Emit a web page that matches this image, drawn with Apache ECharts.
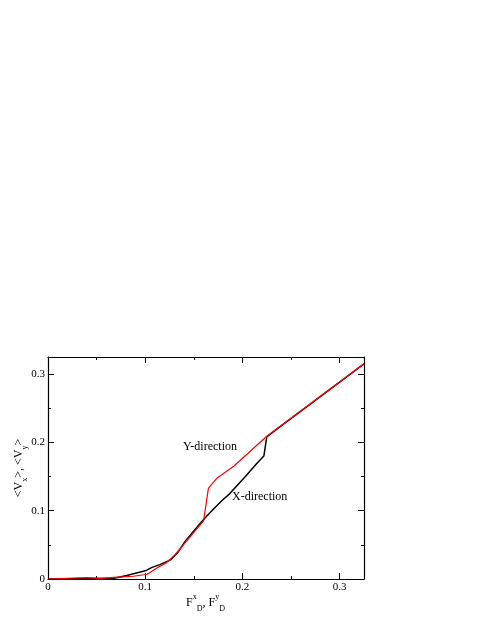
<!DOCTYPE html>
<html>
<head>
<meta charset="utf-8">
<script src="https://cdn.jsdelivr.net/npm/echarts@6/dist/echarts.min.js"></script>
<style>
  html, body { margin: 0; padding: 0; background: #fff; }
  #chart { width: 485px; height: 627px; }
</style>
</head>
<body>
<div id="chart"></div>
<script>
// X-direction (black) : driving force vs mean velocity
const xDirF = [0, 0.068, 0.081, 0.100, 0.107, 0.115, 0.126, 0.133, 0.141, 0.151, 0.160, 0.170, 0.179, 0.187, 0.194, 0.203, 0.214, 0.222, 0.225, 0.235, 0.325];
const xDirV = [0, 0.001, 0.005, 0.012, 0.017, 0.021, 0.028, 0.038, 0.055, 0.072, 0.087, 0.102, 0.115, 0.125, 0.136, 0.150, 0.168, 0.180, 0.208, 0.219, 0.315];

// Y-direction (red)
const yDirF = [0, 0.040, 0.054, 0.068, 0.088, 0.102, 0.112, 0.122, 0.131, 0.141, 0.151, 0.160, 0.165, 0.174, 0.191, 0.225, 0.325];
const yDirV = [0, 0.002, 0.001, 0.0025, 0.004, 0.007, 0.016, 0.024, 0.036, 0.053, 0.070, 0.085, 0.133, 0.148, 0.165, 0.209, 0.315];

const axisMax = 0.325;
const tickStep = 0.1;
const tickLabels = ['0', '0.1', '0.2', '0.3'];

const pairs = (xs, ys) => xs.map((x, i) => [x, ys[i]]);
const fmt = (v) => {
    const i = Math.round(v / tickStep);
    return Math.abs(v - i * tickStep) < 1e-6 && tickLabels[i] !== undefined ? tickLabels[i] : '';
};

const serif = '"Liberation Serif", "DejaVu Serif", serif';

const baseAxis = {
    type: 'value',
    min: 0,
    max: axisMax,
    interval: tickStep,
    axisLine: { show: true, onZero: false, lineStyle: { color: '#000', width: 1.2 } },
    axisTick: { show: true, inside: true, length: 6, lineStyle: { color: '#000', width: 1 } },
    minorTick: { show: true, splitNumber: 2, length: 3, lineStyle: { color: '#000', width: 1 } },
    splitLine: { show: false },
    minorSplitLine: { show: false },
};

const chart = echarts.init(document.getElementById('chart'), null, { renderer: 'canvas' });

chart.setOption({
    backgroundColor: '#fff',
    animation: false,
    grid: { left: 48, right: 121, top: 357, bottom: 48, containLabel: false },
    xAxis: [
        {
            ...baseAxis,
            position: 'bottom',
            axisLabel: {
                color: '#000', fontSize: 11, fontFamily: serif, margin: 3,
                formatter: fmt, showMaxLabel: false,
            },
        },
        {
            ...baseAxis,
            position: 'top',
            axisLabel: { show: false },
        },
    ],
    yAxis: [
        {
            ...baseAxis,
            position: 'left',
            axisLabel: {
                color: '#000', fontSize: 11, fontFamily: serif, margin: 3,
                formatter: fmt, showMaxLabel: false,
            },
        },
        {
            ...baseAxis,
            position: 'right',
            axisLabel: { show: false },
        },
    ],
    series: [
        {
            name: 'X-direction',
            type: 'line',
            data: pairs(xDirF, xDirV),
            symbol: 'none',
            lineStyle: { color: '#000', width: 1.5 },
            z: 2,
        },
        {
            name: 'Y-direction',
            type: 'line',
            data: pairs(yDirF, yDirV),
            symbol: 'none',
            lineStyle: { color: '#ff0000', width: 1.2 },
            z: 3,
        },
    ],
    graphic: [
        {
            type: 'text', left: 183, top: 441,
            style: { text: 'Y-direction', font: '12px ' + serif, fill: '#000' },
        },
        {
            type: 'text', left: 232, top: 491,
            style: { text: 'X-direction', font: '12px ' + serif, fill: '#000' },
        },
        {
            type: 'text', x: 186, y: 593,
            style: {
                text: '{m|F}{sup|x}{sub|D}{m|, F}{sup|y}{sub|D}',
                fill: '#000',
                rich: {
                    m: { fontSize: 12, fontFamily: serif, lineHeight: 20, verticalAlign: 'middle' },
                    sup: { fontSize: 8, fontFamily: serif, lineHeight: 20, verticalAlign: 'top' },
                    sub: { fontSize: 8, fontFamily: serif, lineHeight: 20, verticalAlign: 'bottom' },
                },
            },
        },
        {
            type: 'text', x: 19, y: 468, rotation: Math.PI / 2,
            style: {
                text: '{m|<V}{sub|x}{m|>, <V}{sub|y}{m|>}',
                fill: '#000',
                align: 'center',
                verticalAlign: 'middle',
                rich: {
                    m: { fontSize: 12, fontFamily: serif, lineHeight: 20, verticalAlign: 'middle' },
                    sub: { fontSize: 8, fontFamily: serif, lineHeight: 20, verticalAlign: 'bottom' },
                },
            },
        },
    ],
});
</script>
</body>
</html>
